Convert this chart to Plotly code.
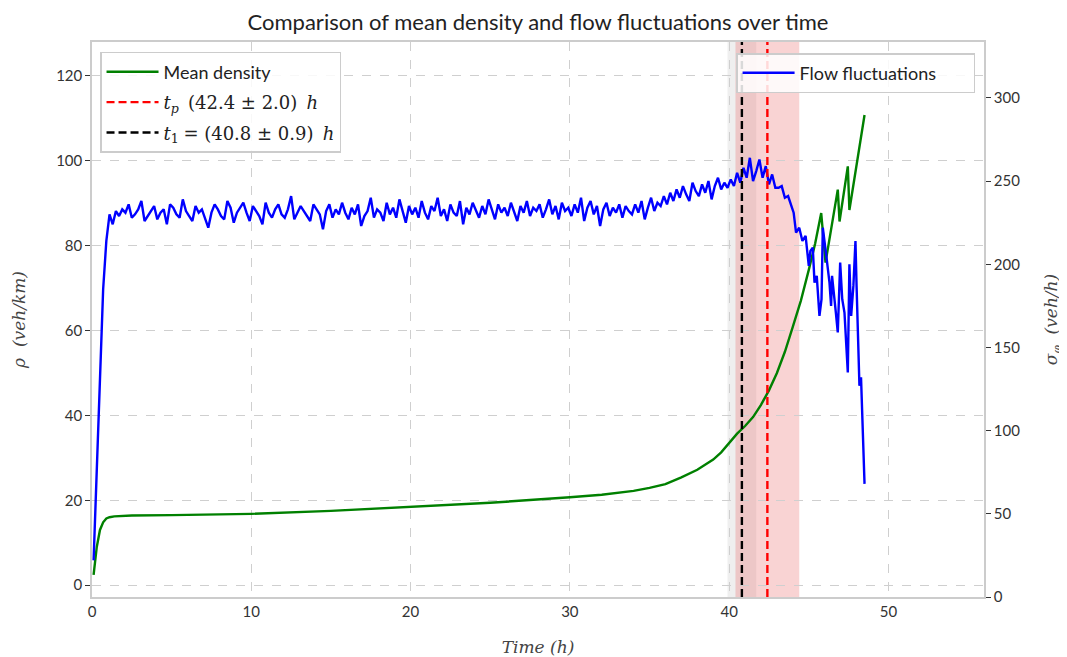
import numpy as np
import plotly.graph_objects as go

# ---------------- data ----------------
density_time = [0.1, 0.3, 0.5, 0.7, 0.9, 1.1, 1.4, 1.8, 2.5, 5, 10, 15, 20, 25, 30, 32, 34, 35, 36,
                37, 38, 38.5, 39, 39.5, 40, 40.5, 41, 41.5, 42, 42.5, 43, 43.5, 44, 44.5, 45,
                45.4, 45.78, 46.05, 46.82, 46.93, 47.45, 47.55, 48.5]
density = [2.4, 9.0, 13.0, 14.8, 15.7, 16.0, 16.2, 16.3, 16.4, 16.5, 16.8, 17.5, 18.4, 19.4, 20.7,
           21.3, 22.2, 22.9, 23.8, 25.4, 27.2, 28.4, 29.6, 31.3, 33.5, 35.7, 37.5, 39.6, 42.5,
           45.9, 50.0, 55.0, 60.9, 67.0, 74.3, 80.5, 87.7, 76.0, 93.2, 85.7, 98.7, 88.4, 110.8]

flow_time_main = list(np.round(np.arange(0.1, 43.0, 0.2), 1))
flow_main = [
    22, 75, 140, 185, 214, 230, 224, 232, 229, 233,
    231, 236, 228, 230, 233, 238, 226, 229, 232, 235,
    227, 231, 233, 224, 236, 234, 230, 228, 239, 232,
    229, 226, 235, 231, 233, 228, 222, 231, 236, 233,
    229, 227, 238, 234, 225, 231, 234, 237, 231, 226,
    235, 232, 229, 224, 237, 231, 228, 233, 236, 230,
    228, 233, 241, 227, 231, 235, 232, 229, 226, 236,
    233, 230, 221, 232, 236, 228, 233, 230, 237, 231,
    227, 234, 230, 236, 223, 229, 232, 240, 228, 233,
    231, 226, 237, 230, 234, 228, 239, 232, 225, 235,
    230, 234, 228, 238, 231, 227, 235, 232, 240, 229,
    233, 226, 236, 231, 229, 238, 224, 234, 230, 237,
    232, 228, 235, 230, 239, 233, 227, 236, 231, 234,
    229, 237, 232, 226, 235, 231, 238, 229, 234, 232,
    236, 228, 233, 239, 230, 235, 227, 237, 232, 234,
    229, 236, 231, 240, 226, 234, 238, 230, 235, 223,
    233, 237, 229, 234, 231, 236, 228, 235, 232, 230,
    236, 231, 238, 227, 234, 240, 232, 237, 235, 241,
    236, 243, 238, 245, 240, 247, 242, 238, 249, 244,
    241, 248, 243, 250, 239, 247, 252, 245, 249, 246,
    251, 247, 255, 249, 258, 252, 264, 250, 256, 263,
    252, 259, 248, 254, 246,
]
flow_time_tail = [43.1, 43.3, 43.5, 43.7, 43.9, 44.05, 44.2, 44.4, 44.6, 44.8, 45.0, 45.1, 45.25,
                  45.36, 45.5, 45.67, 45.8, 45.88, 46.1, 46.3, 46.4, 46.46, 46.7, 46.82, 46.97,
                  47.1, 47.24, 47.45, 47.55, 47.66, 47.8, 47.93, 48.0, 48.18, 48.28, 48.4, 48.5]
flow_tail = [246, 247, 240, 241, 236, 231, 219, 222, 214, 217, 199, 208, 210,
             189, 193, 169, 179, 222, 205, 189, 175, 193, 171, 159, 201,
             179, 171, 135, 200, 169, 187, 214, 187, 127, 132, 99, 68]

t_p, t_p_err = 42.4, 2.0
t_1, t_1_err = 40.8, 0.9

x_ticks = [0, 10, 20, 30, 40, 50]
y_ticks = [0, 20, 40, 60, 80, 100, 120]
y2_ticks = [0, 50, 100, 150, 200, 250, 300]

flow_time = flow_time_main + flow_time_tail
flow = flow_main + flow_tail

# ---------------- figure ----------------
SANS = "Lato, DejaVu Sans, sans-serif"
SERIF = "DejaVu Serif, Liberation Serif, serif"


def it(s):
    return f'<span style="font-family:{SERIF}"><i>{s}</i></span>'


def rm(s):
    return f'<span style="font-family:{SERIF}">{s}</span>'


fig = go.Figure()

# shaded uncertainty bands
fig.add_vrect(x0=t_1 - t_1_err, x1=t_1 + t_1_err, fillcolor="rgba(128,128,128,0.13)",
              line_width=0, layer="below")
fig.add_vrect(x0=t_p - t_p_err, x1=t_p + t_p_err, fillcolor="rgba(232,70,70,0.24)",
              line_width=0, layer="below")

DASH = "8px,4px"
fig.add_trace(go.Scatter(x=density_time, y=density, mode="lines", name="Mean density",
                         line=dict(color="#008000", width=2.4), legend="legend",
                         legendgroup="a"))
fig.add_vline(x=t_p, line=dict(color="#ff0000", width=2.4, dash=DASH), layer="above")
fig.add_vline(x=t_1, line=dict(color="#000000", width=2.4, dash=DASH), layer="above")
fig.add_trace(go.Scatter(x=[None], y=[None], mode="lines",
                         name=f"{it('t')}<sub>{it('p')}</sub>  {rm(f'({t_p} ± {t_p_err:.1f})')}  {it('h')}",
                         line=dict(color="#ff0000", width=2.4, dash=DASH), legend="legend",
                         legendgroup="b"))
fig.add_trace(go.Scatter(x=[None], y=[None], mode="lines",
                         name=f"{it('t')}<sub>{rm('1')}</sub> {rm(f'= ({t_1} ± {t_1_err})')}  {it('h')}",
                         line=dict(color="#000000", width=2.4, dash=DASH), legend="legend",
                         legendgroup="c"))
fig.add_trace(go.Scatter(x=flow_time, y=flow, mode="lines",
                         name="Flow fluctuations&nbsp;&nbsp;&nbsp;&nbsp;&nbsp;&nbsp;&nbsp;",
                         line=dict(color="#0000ff", width=2.4), yaxis="y2", legend="legend2"))

grid = "#cfcfcf"
spine = "#cccccc"
tickfont = dict(family=SANS, size=15, color="#333333")
axtitlefont = dict(family=SERIF, size=17, color="#444444")

# page body has an 8px margin; size/margins compensate so the plot lands where the reference has it
W, H = 1059, 649
fig.update_layout(
    width=W, height=H,
    margin=dict(l=84, r=83, t=34, b=60, autoexpand=False),
    paper_bgcolor="white", plot_bgcolor="white",
    title=dict(text="Comparison of mean density and flow fluctuations over time",
               x=0.5, xref="paper", y=1 - 14 / H, yref="container", xanchor="center",
               yanchor="middle", font=dict(family=SANS, size=22, color="#222222")),
    xaxis=dict(range=[0, 56], tickvals=x_ticks, showgrid=True, gridcolor=grid, griddash="dash",
               gridwidth=1, zeroline=False, showline=True, linecolor=spine, linewidth=1.5,
               mirror=True, ticks="", tickfont=tickfont, automargin=False,
               title=dict(text=it("Time") + " " + it("(h)"), standoff=22, font=axtitlefont)),
    yaxis=dict(range=[-2.8, 128], tickvals=y_ticks, showgrid=True, gridcolor=grid, griddash="dash",
               gridwidth=1, zeroline=False, showline=True, linecolor=spine, linewidth=1.5,
               ticks="outside", ticklen=5, tickcolor="#333333", tickfont=tickfont,
               automargin=False,
               title=dict(text=it("ρ") + "  " + it("(veh/km)"), standoff=26, font=axtitlefont)),
    yaxis2=dict(range=[0, 333.6], tickvals=y2_ticks, overlaying="y", side="right",
                showgrid=False, zeroline=False, showline=True, linecolor=spine, linewidth=1.5,
                ticks="outside", ticklen=5, tickcolor="#333333", tickfont=tickfont,
                automargin=False,
                title=dict(text=it("σ") + "<sub>" + it("φ") + "</sub>  " + it("(veh/h)"),
                           standoff=26, font=axtitlefont)),
    legend=dict(x=0.009, y=0.982, xanchor="left", yanchor="top",
                bgcolor="rgba(255,255,255,0.85)", bordercolor="#cccccc", borderwidth=1.5,
                font=dict(family=SANS, size=18, color="#222222"), tracegroupgap=4,
                itemwidth=52),
    legend2=dict(x=0.99, y=0.98, xanchor="right", yanchor="top",
                 bgcolor="rgba(255,255,255,0.85)", bordercolor="#cccccc", borderwidth=1.5,
                 font=dict(family=SANS, size=18, color="#222222"), itemwidth=52),
    showlegend=True,
)

fig.write_html("out.html")
